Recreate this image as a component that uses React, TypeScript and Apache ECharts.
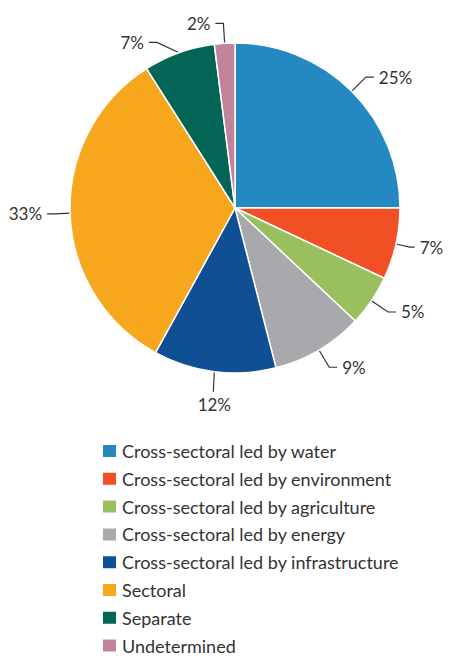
import React, { useEffect, useRef } from "react";
import * as echarts from "echarts";

const categories = [
  "Cross-sectoral led by water",
  "Cross-sectoral led by environment",
  "Cross-sectoral led by agriculture",
  "Cross-sectoral led by energy",
  "Cross-sectoral led by infrastructure",
  "Sectoral",
  "Separate",
  "Undetermined",
];
const values = [25, 7, 5, 9, 12, 33, 7, 2];
const colors = ["#2389C0", "#F05023", "#9ABF5E", "#A7A9AC", "#114F94", "#F7A71D", "#026556", "#C08399"];

export default function App() {
  const ref = useRef<HTMLDivElement>(null);
  useEffect(() => {
    if (!ref.current) return;
    const chart = echarts.init(ref.current, null, { renderer: "svg" });
    chart.setOption({
      animation: false,
      color: colors,
      legend: {
        orient: "vertical",
        left: 96,
        top: 437,
        height: 400,
        icon: "rect",
        itemWidth: 15,
        itemHeight: 14,
        itemGap: 9.8,
        textStyle: { fontFamily: "Lato", fontSize: 18, color: "#333", lineHeight: 18 },
        data: categories,
      },
      series: [
        {
          type: "pie",
          center: [235, 208],
          radius: 165,
          startAngle: 90,
          clockwise: true,
          data: categories.map((name, i) => {
            const d: any = { name, value: values[i] };
            if (i === 1) d.labelLine = { length: 14, length2: 5 };
            return d;
          }),
          itemStyle: { borderColor: "#fff", borderWidth: 1.5 },
          label: {
            formatter: "{c}%",
            fontFamily: "Lato",
            fontSize: 17,
            color: "#333",
            overflow: "none",
          },
          labelLine: {
            length: 20,
            length2: 8,
            lineStyle: { color: "#333", width: 1.2 },
          },
          labelLayout: (params: any) => {
            if (params.dataIndex !== 4 || !params.labelLinePoints) return {};
            const p0 = params.labelLinePoints[0];
            return {
              x: p0[0],
              y: p0[1] + 24,
              align: "center",
              verticalAlign: "top",
              labelLinePoints: [p0, [p0[0] - 1, p0[1] + 20], [p0[0] - 1, p0[1] + 20]],
            };
          },
        },
      ],
    });
    return () => chart.dispose();
  }, []);
  return (
    <div
      ref={ref}
      style={{ position: "fixed", left: 0, top: 0, width: 449, height: 656, background: "#fff" }}
    />
  );
}
